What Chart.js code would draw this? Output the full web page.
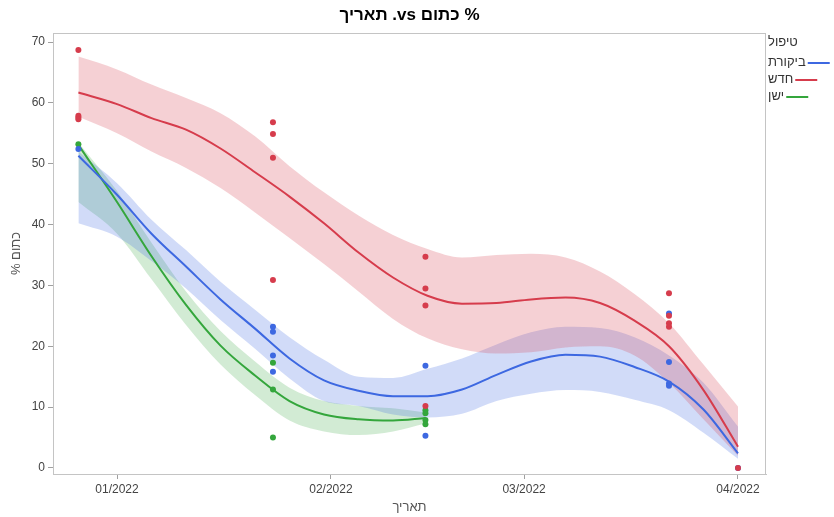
<!DOCTYPE html>
<html>
<head>
<meta charset="utf-8">
<script src="https://cdn.jsdelivr.net/npm/chart.js@4.4.1/dist/chart.umd.min.js"></script>
<style>
html,body{margin:0;padding:0;background:#fff;}
#wrap{width:834px;height:517px;}
</style>
</head>
<body>
<div id="wrap"><canvas id="c" width="834" height="517"></canvas></div>
<script>
// ---- Data (days relative to 01/01/2022) ----
const seriesNames = ['ביקורת', 'חדש', 'ישן'];
const legendTitle = 'טיפול';
const chartTitle = '% כתום vs. תאריך';
const yTitle = '% כתום';
const xTitle = 'תאריך';
const tickDays = [0, 31, 59, 90];
const tickLabels = ['01/2022', '02/2022', '03/2022', '04/2022'];
const yTicks = [0, 10, 20, 30, 40, 50, 60, 70];

// observed points
const ctrlX = [-5.6, 22.6, 22.6, 22.6, 22.6, 44.7, 44.7, 80, 80, 80, 80, 90];
const ctrlY = [52.4, 23.2, 22.4, 18.5, 15.8, 16.8, 5.3, 25.4, 17.4, 13.9, 13.5, 0];
const newX = [-5.6, -5.6, -5.6, -5.6, 22.6, 22.6, 22.6, 22.6, 44.7, 44.7, 44.7, 44.7, 80, 80, 80, 80, 90];
const newY = [68.7, 57.9, 57.6, 57.3, 56.8, 54.9, 51.0, 30.9, 34.7, 29.5, 26.7, 10.2, 28.7, 25.0, 23.8, 23.2, 0];
const oldX = [-5.6, 22.6, 22.6, 22.6, 44.7, 44.7, 44.7, 44.7];
const oldY = [53.2, 17.3, 12.9, 5.0, 9.5, 9.0, 7.9, 7.2];

// smoothed fits + confidence band
const fitDays = [-5.6, 0, 5, 10, 15, 20, 25, 30, 35, 40, 45, 50, 55, 60, 65, 70, 75, 80, 85, 90];
const ctrlFit = [51.3, 44.9, 38.5, 33.1, 27.7, 22.9, 18.0, 14.4, 12.7, 11.8, 11.8, 12.9, 15.3, 17.5, 18.6, 18.3, 16.6, 14.2, 9.6, 2.4];
const ctrlHi  = [52.0, 46.8, 40.8, 35.8, 30.6, 26.0, 21.5, 17.8, 15.0, 14.8, 16.3, 18.0, 20.3, 22.3, 23.2, 23.0, 21.5, 18.5, 14.0, 6.8];
const ctrlLo  = [40.2, 38.0, 34.0, 29.5, 24.3, 19.6, 14.7, 11.0, 10.2, 8.8, 8.3, 8.9, 11.0, 12.2, 12.8, 12.5, 11.2, 9.5, 5.8, 1.5];
const newFit = [61.7, 59.8, 57.5, 55.6, 52.5, 48.6, 44.6, 40.2, 35.4, 31.3, 28.3, 27.0, 27.1, 27.7, 28.0, 27.1, 24.2, 20.0, 12.8, 3.5];
const newHi  = [67.6, 65.5, 63.0, 60.8, 58.3, 54.5, 49.6, 45.3, 41.5, 38.3, 36.0, 34.6, 35.0, 35.2, 34.6, 32.3, 28.6, 23.8, 17.0, 10.1];
const newLo  = [57.7, 55.0, 52.0, 49.3, 46.0, 42.0, 37.8, 33.5, 29.0, 24.5, 21.3, 19.5, 18.8, 19.0, 19.8, 20.0, 18.5, 14.0, 8.0, 2.0];
const oldDays = [-5.6, 0, 5, 10, 15, 20, 25, 30, 35, 40, 44.7];
const oldFit = [53.1, 43.7, 34.8, 26.8, 20.1, 15.2, 11.0, 8.8, 8.0, 7.8, 8.2];
const oldHi  = [53.5, 45.5, 37.0, 29.0, 22.5, 17.5, 13.2, 11.0, 10.2, 9.8, 9.1];
const oldLo  = [43.7, 38.5, 31.0, 23.5, 17.0, 12.0, 7.8, 6.0, 5.4, 6.0, 7.3];

// ---- styling ----
const colors = ['rgb(61,104,225)', 'rgb(214,60,76)', 'rgb(52,166,60)'];
const bands = ['rgba(61,104,225,0.24)', 'rgba(214,60,76,0.24)', 'rgba(52,166,60,0.22)'];
const FONT = "'Liberation Sans', 'DejaVu Sans', sans-serif";

const pts = (xs, ys) => xs.map((x, i) => ({x, y: ys[i]}));

function bandPair(days, hi, lo, ci) {
  return [
    {data: pts(days, hi), showLine: true, fill: '+1', backgroundColor: bands[ci], borderWidth: 0, pointRadius: 0, order: 3, cubicInterpolationMode: 'monotone'},
    {data: pts(days, lo), showLine: true, fill: false, borderWidth: 0, borderColor: 'rgba(0,0,0,0)', pointRadius: 0, order: 3, cubicInterpolationMode: 'monotone'}
  ];
}
function fitLine(days, ys, ci) {
  return {data: pts(days, ys), showLine: true, fill: false, borderColor: colors[ci], borderWidth: 2, pointRadius: 0, order: 2, cubicInterpolationMode: 'monotone'};
}
function scatter(xs, ys, ci) {
  return {data: pts(xs, ys), showLine: false, backgroundColor: colors[ci], borderWidth: 0, pointRadius: 3, order: 1};
}

const datasets = [
  ...bandPair(fitDays, newHi, newLo, 1),
  ...bandPair(fitDays, ctrlHi, ctrlLo, 0),
  ...bandPair(oldDays, oldHi, oldLo, 2),
  fitLine(fitDays, newFit, 1),
  fitLine(fitDays, ctrlFit, 0),
  fitLine(oldDays, oldFit, 2),
  scatter(newX, newY, 1),
  scatter(ctrlX, ctrlY, 0),
  scatter(oldX, oldY, 2)
];

const frame = {
  id: 'frame',
  afterDraw(chart) {
    const {ctx, chartArea: a} = chart;
    ctx.save();
    ctx.strokeStyle = '#c4c4c4';
    ctx.lineWidth = 1;
    ctx.strokeRect(Math.round(a.left) + 0.5, Math.round(a.top) + 0.5, Math.round(a.right - a.left) - 1, Math.round(a.bottom - a.top));
    // legend
    ctx.textAlign = 'left';
    ctx.textBaseline = 'middle';
    ctx.font = '13px ' + FONT;
    ctx.fillStyle = '#333';
    const lx = 768;
    ctx.fillText(legendTitle, lx, 42);
    const ys = [62, 79, 96];
    seriesNames.forEach((n, i) => {
      ctx.fillStyle = '#333';
      ctx.fillText(n, lx, ys[i]);
      const w = ctx.measureText(n).width;
      ctx.strokeStyle = colors[i];
      ctx.lineWidth = 2;
      ctx.beginPath();
      ctx.moveTo(lx + w + 2, ys[i] + 1);
      ctx.lineTo(lx + w + 24, ys[i] + 1);
      ctx.stroke();
    });
    ctx.restore();
  }
};

Chart.defaults.font.family = FONT;
new Chart(document.getElementById('c'), {
  type: 'scatter',
  data: {datasets},
  options: {
    responsive: false,
    animation: false,
    devicePixelRatio: 1,
    layout: {padding: {left: 0, right: 68, top: 0, bottom: 0}},
    plugins: {
      legend: {display: false},
      tooltip: {enabled: false},
      title: {
        display: true, fullSize: false,
        text: '\u202B' + chartTitle + '\u202C',
        color: '#000',
        font: {size: 17, weight: 'bold', family: FONT},
        padding: {top: 5, bottom: 7.6}
      }
    },
    scales: {
      x: {
        type: 'linear', min: -9.28, max: 94.06,
        afterBuildTicks: s => { s.ticks = tickDays.map(v => ({value: v})); },
        afterFit: s => { s.height = 43; },
        ticks: {
          callback: v => tickLabels[tickDays.indexOf(v)] ?? '',
          color: '#444', font: {size: 12}, maxRotation: 0, padding: 3
        },
        grid: {drawOnChartArea: false, drawTicks: true, tickLength: 5, color: '#a0a0a0'},
        border: {display: true, color: '#c4c4c4'},
        title: {display: true, text: xTitle, color: '#555', font: {size: 13}, padding: {top: 0, bottom: 2}}
      },
      y: {
        type: 'linear', min: -0.99, max: 71.48,
        afterBuildTicks: s => { s.ticks = yTicks.map(v => ({value: v})); },
        afterFit: s => { s.width = 53; },
        ticks: {color: '#444', font: {size: 12}, padding: 3},
        grid: {drawOnChartArea: false, drawTicks: true, tickLength: 5, color: '#a0a0a0'},
        border: {display: true, color: '#c4c4c4'},
        title: {display: true, text: yTitle, color: '#555', font: {size: 13}, padding: {top: 9, bottom: 0}}
      }
    }
  },
  plugins: [frame]
});
</script>
</body>
</html>
